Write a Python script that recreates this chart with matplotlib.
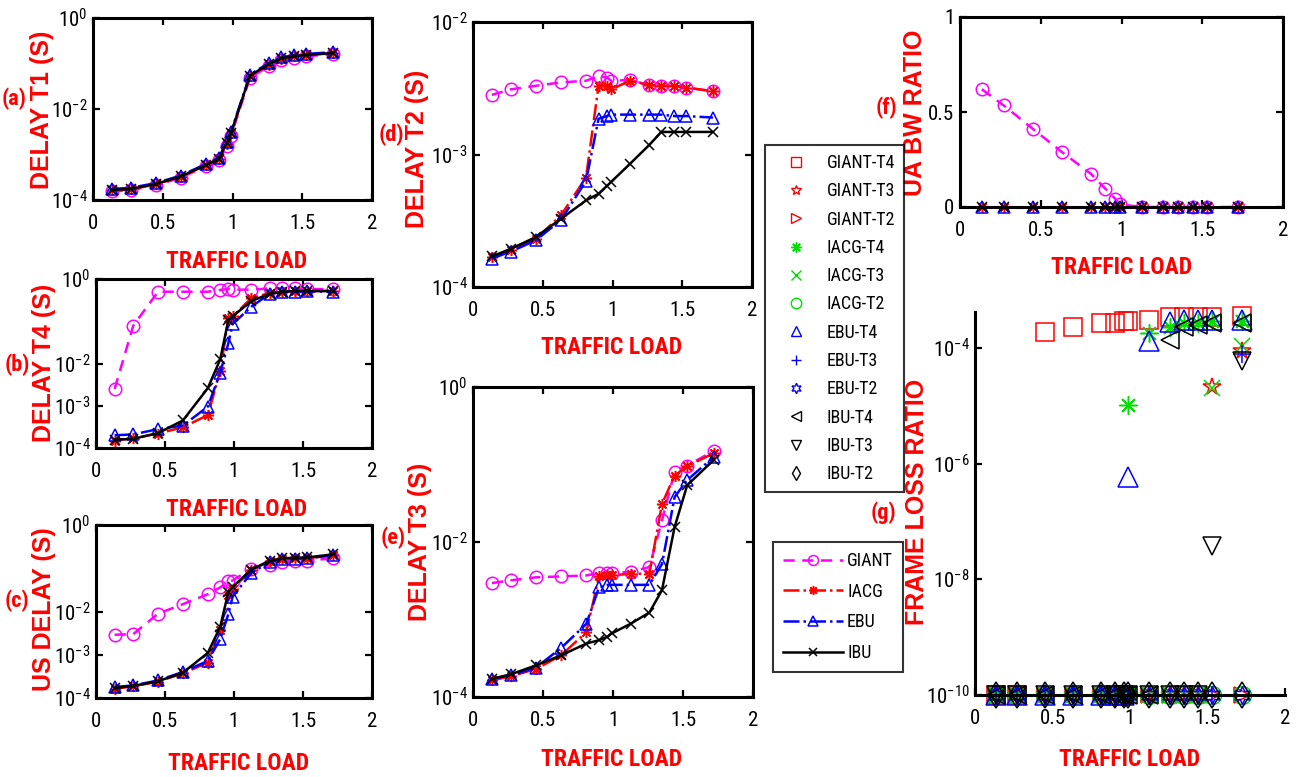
import numpy as np
import matplotlib
matplotlib.use('Agg')
import matplotlib.pyplot as plt
from matplotlib import font_manager
from matplotlib.lines import Line2D
import matplotlib.ticker as mticker

# ---------------- data ----------------
load = [0.135, 0.27, 0.45, 0.63, 0.81, 0.90, 0.96, 0.99, 1.125, 1.26, 1.35, 1.44, 1.53, 1.72]

# (a) DELAY T1
giant_t1 = [1.55e-4, 1.65e-4, 2.1e-4, 3.1e-4, 5.5e-4, 7.5e-4, 1.5e-3, 2.6e-3, 0.048, 0.088, 0.12, 0.135, 0.145, 0.16]
iacg_t1 = [1.62e-4, 1.72e-4, 2.2e-4, 3.25e-4, 5.8e-4, 7.9e-4, 1.7e-3, 2.9e-3, 0.052, 0.095, 0.128, 0.143, 0.153, 0.168]
ebu_t1 = [1.75e-4, 1.85e-4, 2.35e-4, 3.45e-4, 6.2e-4, 8.4e-4, 1.9e-3, 3.2e-3, 0.057, 0.102, 0.136, 0.152, 0.162, 0.178]
ibu_t1 = [1.66e-4, 1.75e-4, 2.25e-4, 3.3e-4, 5.9e-4, 8.0e-4, 1.8e-3, 3.0e-3, 0.054, 0.097, 0.13, 0.145, 0.155, 0.17]

# (b) DELAY T4
giant_t4 = [2.5e-3, 0.079, 0.50, 0.50, 0.50, 0.55, 0.58, 0.56, 0.56, 0.60, 0.60, 0.60, 0.58, 0.57]
iacg_t4 = [1.5e-4, 1.7e-4, 2.2e-4, 3.1e-4, 6.0e-4, 6.5e-3, 0.12, 0.13, 0.35, 0.47, 0.50, 0.52, 0.52, 0.52]
ebu_t4 = [2.0e-4, 2.1e-4, 2.8e-4, 3.4e-4, 9.5e-4, 6.0e-3, 0.031, 0.086, 0.22, 0.45, 0.50, 0.50, 0.51, 0.50]
ibu_t4 = [1.58e-4, 1.65e-4, 2.25e-4, 4.5e-4, 2.6e-3, 0.0125, 0.11, 0.13, 0.30, 0.45, 0.50, 0.52, 0.52, 0.52]

# (c) US DELAY
giant_us = [2.9e-3, 3.0e-3, 8.9e-3, 0.0148, 0.025, 0.036, 0.050, 0.052, 0.098, 0.117, 0.14, 0.15, 0.15, 0.17]
iacg_us = [1.65e-4, 1.85e-4, 2.4e-4, 3.7e-4, 6.6e-4, 3.8e-3, 0.024, 0.034, 0.090, 0.145, 0.165, 0.17, 0.17, 0.20]
ebu_us = [1.8e-4, 1.95e-4, 2.55e-4, 4.0e-4, 7.2e-4, 2.3e-3, 8.9e-3, 0.022, 0.078, 0.14, 0.16, 0.165, 0.17, 0.20]
ibu_us = [1.7e-4, 1.9e-4, 2.45e-4, 3.85e-4, 1.1e-3, 4.4e-3, 0.029, 0.037, 0.093, 0.15, 0.17, 0.175, 0.178, 0.21]

# (d) DELAY T2
giant_t2 = [2.82e-3, 3.1e-3, 3.3e-3, 3.5e-3, 3.6e-3, 3.9e-3, 3.8e-3, 3.6e-3, 3.65e-3, 3.35e-3, 3.3e-3, 3.3e-3, 3.2e-3, 3.0e-3]
iacg_t2 = [1.68e-4, 1.89e-4, 2.3e-4, 3.47e-4, 6.7e-4, 3.3e-3, 3.3e-3, 3.1e-3, 3.6e-3, 3.35e-3, 3.3e-3, 3.3e-3, 3.2e-3, 3.0e-3]
ebu_t2 = [1.64e-4, 1.85e-4, 2.25e-4, 3.2e-4, 6.3e-4, 1.86e-3, 1.95e-3, 2.0e-3, 2.0e-3, 2.0e-3, 2.0e-3, 1.95e-3, 1.95e-3, 1.9e-3]
ibu_t2 = [1.7e-4, 1.94e-4, 2.38e-4, 3.27e-4, 4.5e-4, 5.05e-4, 5.8e-4, 6.2e-4, 8.5e-4, 1.17e-3, 1.48e-3, 1.48e-3, 1.48e-3, 1.48e-3]

# (e) DELAY T3
giant_t3 = [2.95e-3, 3.2e-3, 3.5e-3, 3.6e-3, 3.7e-3, 4.0e-3, 4.0e-3, 4.0e-3, 4.1e-3, 4.75e-3, 0.019, 0.080, 0.097, 0.15]
iacg_t3 = [1.64e-4, 1.85e-4, 2.3e-4, 3.45e-4, 6.9e-4, 3.6e-3, 3.7e-3, 3.7e-3, 3.9e-3, 3.9e-3, 0.031, 0.072, 0.095, 0.14]
ebu_t3 = [1.72e-4, 1.9e-4, 2.4e-4, 4.3e-4, 8.8e-4, 2.6e-3, 2.8e-3, 2.8e-3, 2.8e-3, 2.8e-3, 5.2e-3, 0.038, 0.063, 0.125]
ibu_t3 = [1.72e-4, 1.96e-4, 2.56e-4, 3.45e-4, 4.9e-4, 5.4e-4, 6.0e-4, 6.6e-4, 8.8e-4, 1.23e-3, 2.4e-3, 0.0156, 0.054, 0.115]

# (f) UA BW RATIO
giant_ua = [0.62, 0.535, 0.412, 0.29, 0.175, 0.096, 0.044, 0.014, 0, 0, 0, 0, 0, 0]
iacg_ua = [0, 0, 0, 0, 0, 0, 0, 0, 0, 0, 0, 0, 0, 0]
ebu_ua = [0, 0, 0, 0, 0, 0, 0, 0, 0, 0, 0, 0, 0, 0]
ibu_ua = [0, 0, 0, 0, 0, 0, 0, 0, 0, 0, 0, 0, 0, 0]

# (g) FRAME LOSS RATIO (1e-10 = no loss floor)
loss_giant_t4 = [1e-10, 1e-10, 1.9e-4, 2.3e-4, 2.7e-4, 2.7e-4, 2.9e-4, 2.9e-4, 3.0e-4, 3.5e-4, 3.5e-4, 3.5e-4, 3.5e-4, 3.6e-4]
loss_giant_t3 = [1e-10, 1e-10, 1e-10, 1e-10, 1e-10, 1e-10, 1e-10, 1e-10, 1e-10, 1e-10, 1e-10, 1e-10, 2.1e-5, 9e-5]
loss_giant_t2 = [1e-10, 1e-10, 1e-10, 1e-10, 1e-10, 1e-10, 1e-10, 1e-10, 1e-10, 1e-10, 1e-10, 1e-10, 1e-10, 1e-10]
loss_iacg_t4 = [1e-10, 1e-10, 1e-10, 1e-10, 1e-10, 1e-10, 1e-10, 1.05e-5, 1.8e-4, 2.3e-4, 2.7e-4, 2.7e-4, 2.9e-4, 2.9e-4]
loss_iacg_t3 = [1e-10, 1e-10, 1e-10, 1e-10, 1e-10, 1e-10, 1e-10, 1e-10, 1e-10, 1e-10, 1e-10, 1e-10, 2.0e-5, 1.1e-4]
loss_iacg_t2 = [1e-10, 1e-10, 1e-10, 1e-10, 1e-10, 1e-10, 1e-10, 1e-10, 1e-10, 1e-10, 1e-10, 1e-10, 1e-10, 1e-10]
loss_ebu_t4 = [1e-10, 1e-10, 1e-10, 1e-10, 1e-10, 1e-10, 1e-10, 6e-7, 1.3e-4, 2.8e-4, 3.0e-4, 3.0e-4, 3.0e-4, 3.0e-4]
loss_ebu_t3 = [1e-10, 1e-10, 1e-10, 1e-10, 1e-10, 1e-10, 1e-10, 1e-10, 1e-10, 1e-10, 1e-10, 1e-10, 1e-10, 8e-5]
loss_ebu_t2 = [1e-10, 1e-10, 1e-10, 1e-10, 1e-10, 1e-10, 1e-10, 1e-10, 1e-10, 1e-10, 1e-10, 1e-10, 1e-10, 1e-10]
loss_ibu_t4 = [1e-10, 1e-10, 1e-10, 1e-10, 1e-10, 1e-10, 1e-10, 1e-10, 1e-10, 1.4e-4, 2.3e-4, 2.5e-4, 2.7e-4, 2.7e-4]
loss_ibu_t3 = [1e-10, 1e-10, 1e-10, 1e-10, 1e-10, 1e-10, 1e-10, 1e-10, 1e-10, 1e-10, 1e-10, 1e-10, 3.7e-8, 6e-5]
loss_ibu_t2 = [1e-10, 1e-10, 1e-10, 1e-10, 1e-10, 1e-10, 1e-10, 1e-10, 1e-10, 1e-10, 1e-10, 1e-10, 1e-10, 1e-10]

x_ticks = [0, 0.5, 1, 1.5, 2]
x_ticklabels = ['0', '0.5', '1', '1.5', '2']
method_names = ['GIANT', 'IACG', 'EBU', 'IBU']
loss_names = ['GIANT-T4', 'GIANT-T3', 'GIANT-T2', 'IACG-T4', 'IACG-T3', 'IACG-T2',
              'EBU-T4', 'EBU-T3', 'EBU-T2', 'IBU-T4', 'IBU-T3', 'IBU-T2']

# ---------------- fonts ----------------
names = {f.name for f in font_manager.fontManager.ttflist}
NARROW = 'Liberation Sans Narrow' if 'Liberation Sans Narrow' in names else (
    'Roboto Condensed' if 'Roboto Condensed' in names else 'Liberation Sans')
SANS = 'Liberation Sans' if 'Liberation Sans' in names else 'DejaVu Sans'
plt.rcParams['font.family'] = [NARROW, 'DejaVu Sans']
plt.rcParams['mathtext.fontset'] = 'custom'
plt.rcParams['mathtext.rm'] = NARROW
plt.rcParams['mathtext.it'] = NARROW
plt.rcParams['mathtext.bf'] = NARROW + ':bold'

W, H = 1302, 777
fig = plt.figure(figsize=(W / 100, H / 100), dpi=100)

MAG = '#FF00FF'
GRN = '#00DD00'
RED = '#FF0000'


def P(x, y):
    return (x / W, 1 - y / H)


def make_ax(l, t, r, b):
    return fig.add_axes([l / W, 1 - b / H, (r - l) / W, (b - t) / H])


def logfmt(v, p):
    return r'$10^{%d}$' % int(round(np.log10(v)))


def style(ax, box=True):
    for s in ax.spines.values():
        s.set_linewidth(2.2)
    if not box:
        ax.spines['top'].set_visible(False)
        ax.spines['right'].set_visible(False)
    ax.tick_params(direction='in', length=5, width=1.6, labelsize=15,
                   top=box, right=box)
    ax.tick_params(axis='x', pad=10)
    ax.tick_params(axis='y', pad=4)
    ax.set_xlim(0, 2)
    ax.set_xticks(x_ticks)
    ax.set_xticklabels(x_ticklabels)


def log_y(ax, lo, hi, ticks):
    ax.set_yscale('log')
    ax.set_ylim(lo, hi)
    ax.yaxis.set_major_locator(mticker.FixedLocator(ticks))
    ax.yaxis.set_major_formatter(mticker.FuncFormatter(logfmt))
    ax.yaxis.set_minor_locator(mticker.NullLocator())


line_styles = [
    dict(color=MAG, ls=(0, (4.5, 3)), marker='o', ms=9, mfc='none'),
    dict(color=RED, ls='-.', marker=(8, 2, 0), ms=8),
    dict(color='blue', ls='-.', marker='^', ms=9, mfc='none'),
    dict(color='black', ls='-', marker='x', ms=7),
]


def plot_lines(ax, series):
    for vals, st in zip(series, line_styles):
        ax.plot(load, vals, lw=1.8, mew=1.1, clip_on=False, **st)


# (a)
ax_a = make_ax(93, 18, 372, 200)
style(ax_a)
log_y(ax_a, 1e-4, 1, [1e-4, 1e-2, 1])
plot_lines(ax_a, [giant_t1, iacg_t1, ebu_t1, ibu_t1])

# (b)
ax_b = make_ax(96, 279, 372, 448)
style(ax_b)
log_y(ax_b, 1e-4, 1, [1e-4, 1e-3, 1e-2, 1])
plot_lines(ax_b, [giant_t4, iacg_t4, ebu_t4, ibu_t4])

# (c)
ax_c = make_ax(96, 525, 372, 698)
style(ax_c)
log_y(ax_c, 1e-4, 1, [1e-4, 1e-3, 1e-2, 1])
plot_lines(ax_c, [giant_us, iacg_us, ebu_us, ibu_us])

# (d)
ax_d = make_ax(473, 22, 752, 287)
style(ax_d)
log_y(ax_d, 1e-4, 1e-2, [1e-4, 1e-3, 1e-2])
plot_lines(ax_d, [giant_t2, iacg_t2, ebu_t2, ibu_t2])

# (e)
ax_e = make_ax(473, 387, 753, 697)
style(ax_e)
log_y(ax_e, 1e-4, 1, [1e-4, 1e-2, 1])
plot_lines(ax_e, [giant_t3, iacg_t3, ebu_t3, ibu_t3])

# (f)
ax_f = make_ax(960, 17, 1283, 207)
style(ax_f)
ax_f.set_ylim(0, 1)
ax_f.set_yticks([0, 0.5, 1])
ax_f.set_yticklabels(['0', '0.5', '1'])
plot_lines(ax_f, [giant_ua, iacg_ua, ebu_ua, ibu_ua])

# (g)
ax_g = make_ax(975, 312, 1285, 695)
style(ax_g, box=False)
log_y(ax_g, 1e-10, 4.2e-4, [1e-10, 1e-8, 1e-6, 1e-4])
loss_series = [loss_giant_t4, loss_giant_t3, loss_giant_t2, loss_iacg_t4, loss_iacg_t3, loss_iacg_t2,
               loss_ebu_t4, loss_ebu_t3, loss_ebu_t2, loss_ibu_t4, loss_ibu_t3, loss_ibu_t2]
loss_styles = [
    dict(color=RED, marker='s', ms=13),
    dict(color=RED, marker='*', ms=13),
    dict(color=RED, marker='>', ms=11),
    dict(color=GRN, marker=(8, 2, 0), ms=13),
    dict(color=GRN, marker='x', ms=11),
    dict(color=GRN, marker='o', ms=13),
    dict(color='blue', marker='^', ms=14),
    dict(color='blue', marker='+', ms=13),
    dict(color='blue', marker=(6, 1, 0), ms=13),
    dict(color='black', marker='<', ms=13),
    dict(color='black', marker='v', ms=13),
    dict(color='black', marker='d', ms=13),
]
for vals, st in zip(loss_series, loss_styles):
    ax_g.plot(load, vals, ls='none', mfc='none', mew=1.1, clip_on=False, **st)

# ---------------- labels ----------------
ylabels = [('DELAY T1 (S)', 42, 110), ('DELAY T4 (S)', 44, 363), ('US DELAY (S)', 44, 609),
           ('DELAY T2 (S)', 417, 149), ('DELAY T3 (S)', 420, 542),
           ('UA BW RATIO', 915, 113), ('FRAME LOSS RATIO', 917, 502)]
for txt, x, y in ylabels:
    fig.text(*P(x, y), txt, rotation=90, ha='center', va='center', color=RED,
             fontsize=18, fontweight='bold', family=SANS)

xlabels = [(237, 262), (237, 510), (239, 763), (612, 347), (612, 760), (1122, 268), (1130, 759)]
for x, y in xlabels:
    fig.text(*P(x, y), 'TRAFFIC LOAD', ha='center', va='center', color=RED,
             fontsize=17, fontweight='bold', family=NARROW)

panels = [('(a)', 14, 99), ('(b)', 17, 365), ('(c)', 17, 601), ('(d)', 391, 135),
          ('(e)', 393, 538), ('(f)', 886, 108), ('(g)', 883, 513)]
for txt, x, y in panels:
    fig.text(*P(x, y), txt, ha='center', va='center', color=RED,
             fontsize=16, fontweight='bold', family=NARROW)

# ---------------- legends ----------------
h1 = [Line2D([], [], ls='none', mfc='none', mew=1.0,
             **dict(st, ms=min(st['ms'], 10) * 0.75)) for st in loss_styles]
leg1 = fig.legend(h1, loss_names, loc='upper left', bbox_to_anchor=P(765, 145),
                  frameon=True, fancybox=False, edgecolor='black', fontsize=13,
                  handlelength=2.4, handletextpad=0.5, borderpad=0.5,
                  labelspacing=0.57, borderaxespad=0)
leg1.get_frame().set_linewidth(1.5)

h2 = [Line2D([], [], lw=1.8, mew=1.1, **dict(st, ms=st['ms'] * 0.8)) for st in line_styles]
leg2 = fig.legend(h2, method_names, loc='upper left', bbox_to_anchor=P(773, 542),
                  frameon=True, fancybox=False, edgecolor='black', fontsize=13,
                  handlelength=3.3, handletextpad=0.25, borderpad=0.55,
                  labelspacing=0.7, borderaxespad=0)
leg2.get_frame().set_linewidth(1.5)

fig.savefig('out.png', dpi=100)
